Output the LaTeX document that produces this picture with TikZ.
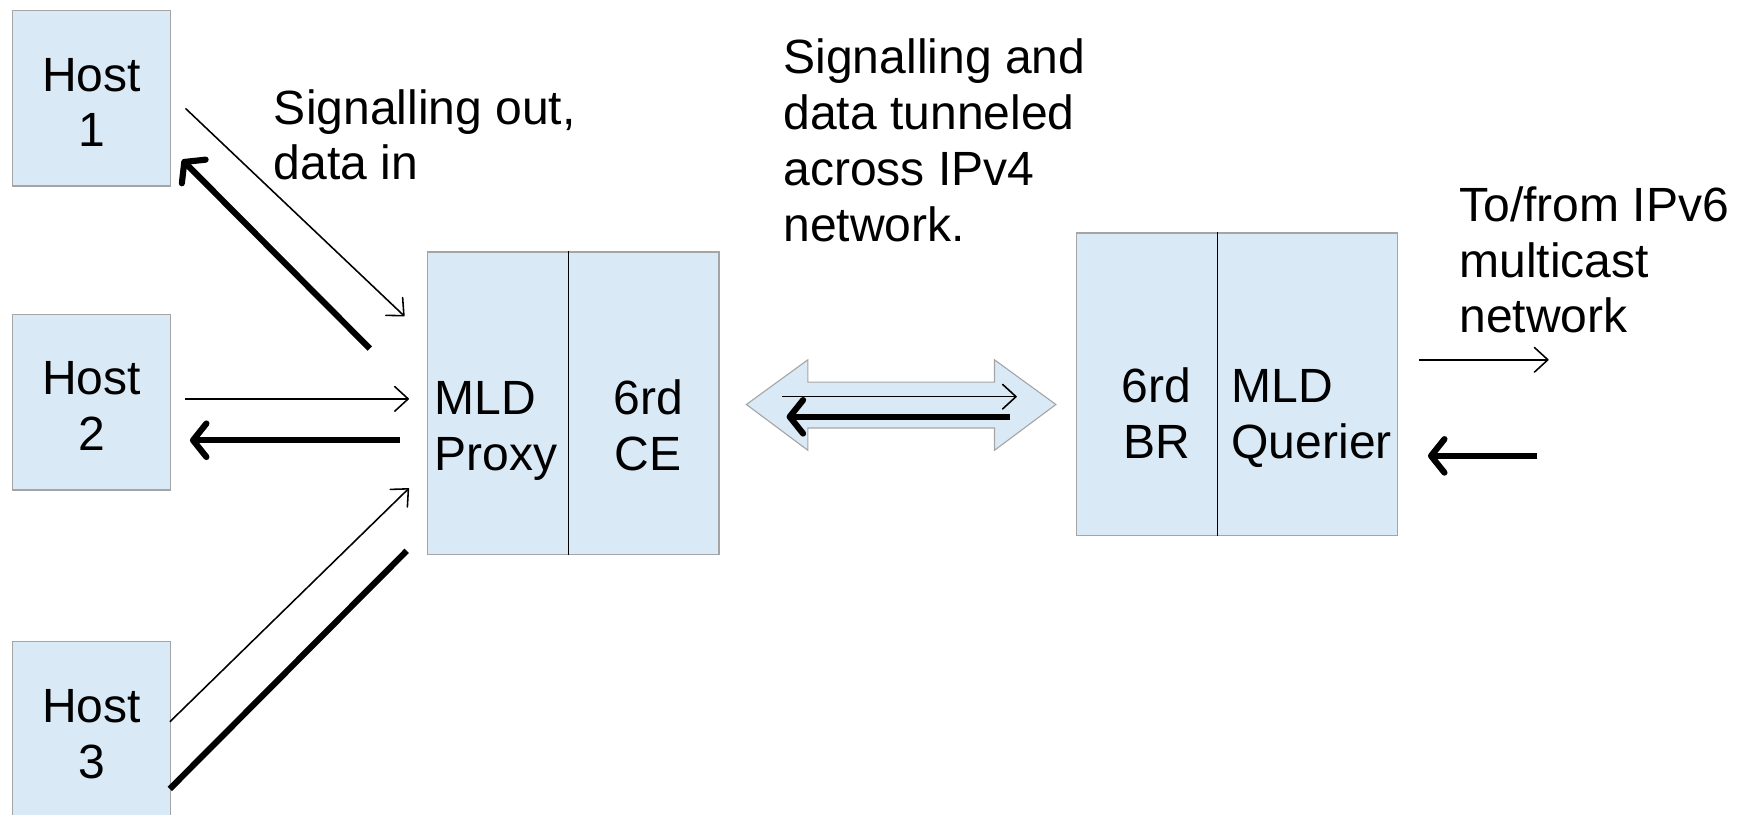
\documentclass[tikz,border=0pt]{standalone}
\usepackage{fontspec}
\setmainfont{Liberation Sans}
\usetikzlibrary{arrows.meta}
\definecolor{boxfill}{RGB}{217,234,246}
\definecolor{boxline}{RGB}{165,165,165}
\begin{document}
\begin{tikzpicture}[x=1pt,y=-1pt,
  lbl/.style={font=\fontsize{43}{50}\selectfont, inner sep=0pt, align=left},
  cell/.style={draw=boxline, fill=boxfill, line width=1pt, inner sep=0pt, anchor=north west},
  hostbox/.style={cell, lbl, align=center, minimum width=141pt, minimum height=157pt, text height=87pt, text depth=0pt},
  sigline/.style={line width=1.4pt, -{Straight Barb[length=12pt,width=22pt,round]}},
  dataline/.style={line width=5.5pt, -{Straight Barb[length=12pt,width=30pt,round]}},
  dataplain/.style={line width=5.5pt}
]
\useasboundingbox (0,0) rectangle (1568,729);

% hosts
\node[hostbox] (h1) at (11,9) {Host\\1};
\node[hostbox] (h2) at (11,281) {Host\\2};
\node[hostbox] (h3) at (11,574) {Host\\3};

% MLD proxy / 6rd CE
\node[cell, minimum width=126pt, minimum height=271pt] (mldp) at (382,225) {};
\node[cell, minimum width=135pt, minimum height=271pt] (ce) at (508,225) {};
\draw[line width=1pt] (mldp.north east) -- (mldp.south east);
\node[lbl, anchor=base west] (tmldp) at (389,421) {MLD\\Proxy};
\node[lbl, anchor=base, align=center] (tce) at (580,421) {6rd\\CE};

% 6rd BR / MLD querier
\node[cell, minimum width=126pt, minimum height=271pt] (br) at (963,208) {};
\node[cell, minimum width=161pt, minimum height=271pt] (mldq) at (1089,208) {};
\draw[line width=1pt] (br.north east) -- (br.south east);
\node[lbl, anchor=base, align=center] (tbr) at (1035,410) {6rd\\BR};
\node[lbl, anchor=base west] (tmldq) at (1102,410) {MLD\\Querier};

% tunnel block arrow
\draw[draw=boxline, fill=boxfill, line width=1pt]
  (668,362) -- (723,322) -- (723,342) -- (890,342) -- (890,322) -- (945,362)
  -- (890,403) -- (890,383) -- (723,383) -- (723,403) -- cycle;

% labels
\node[lbl, anchor=base west] (t1) at (245,161) {Signalling out,\\data in};
\node[lbl, anchor=base west] (t2) at (701,216) {Signalling and\\data tunneled\\across IPv4\\network.};
\node[lbl, anchor=base west] (t3) at (1306,298) {To/from IPv6\\multicast\\network};

% connector end points
\coordinate (a1s) at (166,97);   \coordinate (a1e) at (362,283);
\coordinate (b1s) at (331,312);  \coordinate (b1e) at (163,143);
\coordinate (a2s) at (166,357);  \coordinate (a2e) at (366,357);
\coordinate (b2s) at (358,394);  \coordinate (b2e) at (170,394);
\coordinate (a3s) at (152,646);  \coordinate (a3e) at (366,437);
\coordinate (b3s) at (152,706);  \coordinate (b3e) at (364,493);
\coordinate (a4s) at (700,355);  \coordinate (a4e) at (910,355);
\coordinate (b4s) at (904,373);  \coordinate (b4e) at (704,373);
\coordinate (a5s) at (1270,322); \coordinate (a5e) at (1386,322);
\coordinate (b5s) at (1376,408); \coordinate (b5e) at (1278,408);

% connectors
\draw[sigline] (a1s) -- (a1e);
\draw[dataline] (b1s) -- (b1e);
\draw[sigline] (a2s) -- (a2e);
\draw[dataline] (b2s) -- (b2e);
\draw[sigline] (a3s) -- (a3e);
\draw[dataplain] (b3s) -- (b3e);
\draw[sigline] (a4s) -- (a4e);
\draw[dataline] (b4s) -- (b4e);
\draw[sigline] (a5s) -- (a5e);
\draw[dataline] (b5s) -- (b5e);
\end{tikzpicture}
\end{document}
